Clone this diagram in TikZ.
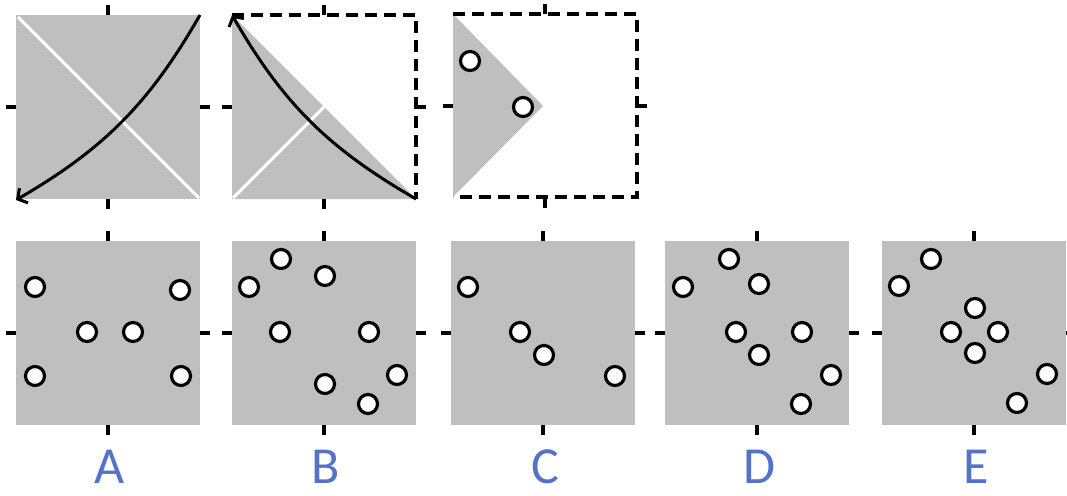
\documentclass[tikz,border=0pt]{standalone}
\usepackage{fontspec}
\setmainfont{Carlito}
\usepackage{xcolor}
\usepackage{tikz}
\usetikzlibrary{arrows.meta}
\definecolor{panelgray}{RGB}{191,191,191}
\definecolor{labelblue}{RGB}{84,114,200}
\tikzset{
  ball/.style={circle, draw=black, fill=white, line width=3.2pt, minimum size=19pt, inner sep=0pt},
  tickmark/.style={line width=3.2pt},
  fold/.style={line width=3pt, -{Straight Barb[length=7pt,width=17pt,line width=3pt]}, bend left=15},
  crease/.style={white, line width=3pt},
  outline/.style={line width=3.5pt, dash pattern=on 12pt off 7pt},
  letter/.style={labelblue, font=\fontsize{52}{52}\selectfont, anchor=base, inner sep=0pt},
  panel ticks/.pic={
    \draw[tickmark] (0,-92) -- (0,-102) (0,92) -- (0,102) (-92,0) -- (-102,0) (92,0) -- (102,0);
  }
}

\begin{document}
\begin{tikzpicture}[x=1pt, y=-1pt]
                        \useasboundingbox (0,0) rectangle (1067,495);
                        % top row: folding steps
                        \fill[panelgray] (16,15) rectangle (200,199);
                        \draw[crease] (18,17) -- (199,198);
                        \coordinate (fold1s) at (200,15);
                        \coordinate (fold1e) at (16,200);
                        \draw[fold] (fold1s) to (fold1e);
                        \pic at (108,107) {panel ticks};
                        \fill[panelgray] (232,15) -- (232,199) -- (416,199) -- cycle;
                        \draw[crease] (233,198) -- (324,107);
                        \draw[outline] (232,15) -- (416,15) -- (416,199);
                        \coordinate (fold2s) at (416,199);
                        \coordinate (fold2e) at (232,15);
                        \draw[fold] (fold2s) to (fold2e);
                        \pic at (324,107) {panel ticks};
                        \fill[panelgray] (453,14) -- (453,197) -- (543,106) -- cycle;
                        \draw[outline] (453,14) -- (637,14) -- (637,197) -- (453,197);
                        \pic at (545,106) {panel ticks};
                        \node[ball] (top1) at (470,61) {};
                        \node[ball] (top2) at (523,107) {};
                        % bottom row: answer choices
                        \foreach \cx/\name in {108/A, 324/B, 543/C, 757/D, 974/E} {
                          \fill[panelgray] (\cx-92,241) rectangle (\cx+92,425);
                          \pic at (\cx,333) {panel ticks};
                          \node[letter] (label\name) at (\cx+2,483) {\name};
                        }
                        \foreach \bx/\by [count=\i] in {35/287, 180/290, 87/332, 133/332, 35/376, 181/376}
                          \node[ball] (a\i) at (\bx,\by) {};
                        \foreach \bx/\by [count=\i] in {249/287, 281/259, 325/276, 280/332, 369/332, 397/375, 325/384, 368/404}
                          \node[ball] (b\i) at (\bx,\by) {};
                        \foreach \bx/\by [count=\i] in {468/287, 520/332, 544/355, 615/376}
                          \node[ball] (c\i) at (\bx,\by) {};
                        \foreach \bx/\by [count=\i] in {683/287, 729/259, 759/284, 736/332, 759/355, 802/332, 831/375, 801/404}
                          \node[ball] (d\i) at (\bx,\by) {};
                        \foreach \bx/\by [count=\i] in {931/259, 899/286, 975/308, 951/332, 998/332, 975/353, 1047/374, 1017/403}
                          \node[ball] (e\i) at (\bx,\by) {};
                    \end{tikzpicture}
\end{document}
